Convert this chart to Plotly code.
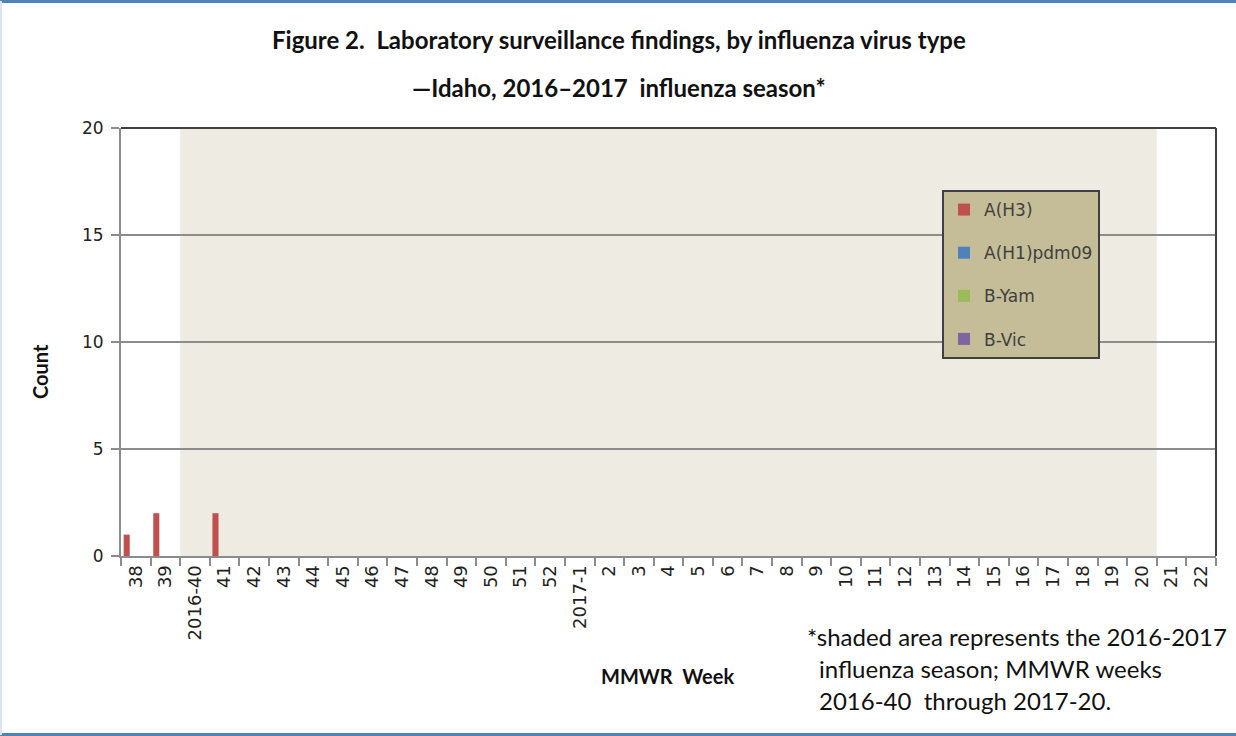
import plotly.graph_objects as go

weeks = ["38", "39", "2016-40", "41", "42", "43", "44", "45", "46", "47", "48", "49",
         "50", "51", "52", "2017-1", "2", "3", "4", "5", "6", "7", "8", "9", "10",
         "11", "12", "13", "14", "15", "16", "17", "18", "19", "20", "21", "22"]
a_h3 = [1, 2, 0, 2] + [0] * 33
a_h1 = [0] * 37
b_yam = [0] * 37
b_vic = [0] * 37

series_names = ["A(H3)", "A(H1)pdm09", "B-Yam", "B-Vic"]
series_vals = [a_h3, a_h1, b_yam, b_vic]
series_colors = ["#C0504D", "#4F81BD", "#9BBB59", "#8064A2"]

season_start_idx = 1.5   # between 39 and 2016-40
season_end_idx = 34.5    # between 20 and 21

fig = go.Figure()
for i, (name, vals, col) in enumerate(zip(series_names, series_vals, series_colors)):
    fig.add_trace(go.Bar(x=weeks, y=vals, name=name, marker=dict(color=col, line=dict(width=0)),
                         legendgroup=f"g{i}"))

fig.update_layout(
    width=1236, height=736,
    barmode="group", bargap=0.18, bargroupgap=0,
    margin=dict(l=121, r=20, t=128, b=180),
    paper_bgcolor="white", plot_bgcolor="white",
    showlegend=True,
    legend=dict(x=0.7498, y=0.855, xanchor="left", yanchor="top",
                bgcolor="#C4BD97", bordercolor="#404040", borderwidth=2,
                font=dict(family="DejaVu Sans", size=17, color="#404040"),
                tracegroupgap=18, itemwidth=30),
    font=dict(family="DejaVu Sans", color="#222222"),
)
fig.update_xaxes(type="category", categoryorder="array", categoryarray=weeks,
                 tickangle=-90, tickfont=dict(family="DejaVu Sans", size=18, color="#222222"),
                 showline=True, linecolor="#8C8C8C", linewidth=2,
                 ticks="outside", ticklen=8, tickcolor="#8C8C8C", tickwidth=2,
                 tickson="boundaries", showgrid=False, range=[-0.5, 36.5])
fig.update_yaxes(range=[0, 20], tickvals=[0, 5, 10, 15, 20],
                 tickfont=dict(family="DejaVu Sans", size=17, color="#222222"),
                 showline=True, linecolor="#8C8C8C", linewidth=2,
                 ticks="outside", ticklen=8, tickcolor="#8C8C8C", tickwidth=2,
                 ticklabelstandoff=4,
                 showgrid=True, gridcolor="#8C8C8C", gridwidth=1.5, zeroline=False)

# season shading
fig.add_shape(type="rect", xref="x", yref="y", x0=season_start_idx, x1=season_end_idx,
              y0=0, y1=20, fillcolor="#EEEBE3", line=dict(width=0), layer="below")
# plot frame top & right
fig.add_shape(type="line", xref="paper", yref="paper", x0=0, x1=1, y0=1, y1=1,
              line=dict(color="#404040", width=2))
fig.add_shape(type="line", xref="paper", yref="paper", x0=1, x1=1, y0=0, y1=1,
              line=dict(color="#404040", width=2))

# outer border lines
fig.add_shape(type="line", xref="paper", yref="paper", x0=-121/1095, x1=1+20/1095,
              y0=1+126.5/428, y1=1+126.5/428, line=dict(color="#4F81BD", width=3))
fig.add_shape(type="line", xref="paper", yref="paper", x0=-121/1095, x1=1+20/1095,
              y0=-178.5/428, y1=-178.5/428, line=dict(color="#4F81BD", width=3))
fig.add_shape(type="line", xref="paper", yref="paper", x0=-120/1095, x1=-120/1095,
              y0=-179/428, y1=1+127/428, line=dict(color="#DCE6F2", width=2))

title_font = dict(family="Lato", size=24, color="#111111")
annotations = [
    dict(text="<b>Figure 2.  Laboratory surveillance findings, by influenza virus type</b>",
         x=619, y=736 - 40, font=title_font),
    dict(text="<b>\u2014Idaho, 2016\u20132017  influenza season*</b>",
         x=619, y=736 - 87, font=title_font),
    dict(text="<b>Count</b>", x=40, y=736 - 372, textangle=-90,
         font=dict(family="Lato", size=20, color="#111111")),
    dict(text="<b>MMWR  Week</b>", x=667, y=736 - 676,
         font=dict(family="Lato", size=20, color="#111111")),
]
foot_font = dict(family="Lato", size=24, color="#111111")
for txt, xx, yy in [("*shaded area represents the 2016-2017", 805, 636),
                    ("influenza season; MMWR weeks", 817, 668),
                    ("2016-40  through 2017-20.", 817, 700)]:
    annotations.append(dict(text=txt, x=xx, y=736 - yy, xanchor="left", font=foot_font))

for a in annotations:
    a.setdefault("xanchor", "center")
    a.update(xref="paper", yref="paper", yanchor="middle", showarrow=False)
    a["x"] = (a["x"] - 121) / 1095
    a["y"] = (a["y"] - 180) / 428
fig.update_layout(annotations=annotations)

fig.write_html("out.html", config={"displayModeBar": False},
               post_script="document.body.style.margin='0';document.body.style.overflow='hidden';")
